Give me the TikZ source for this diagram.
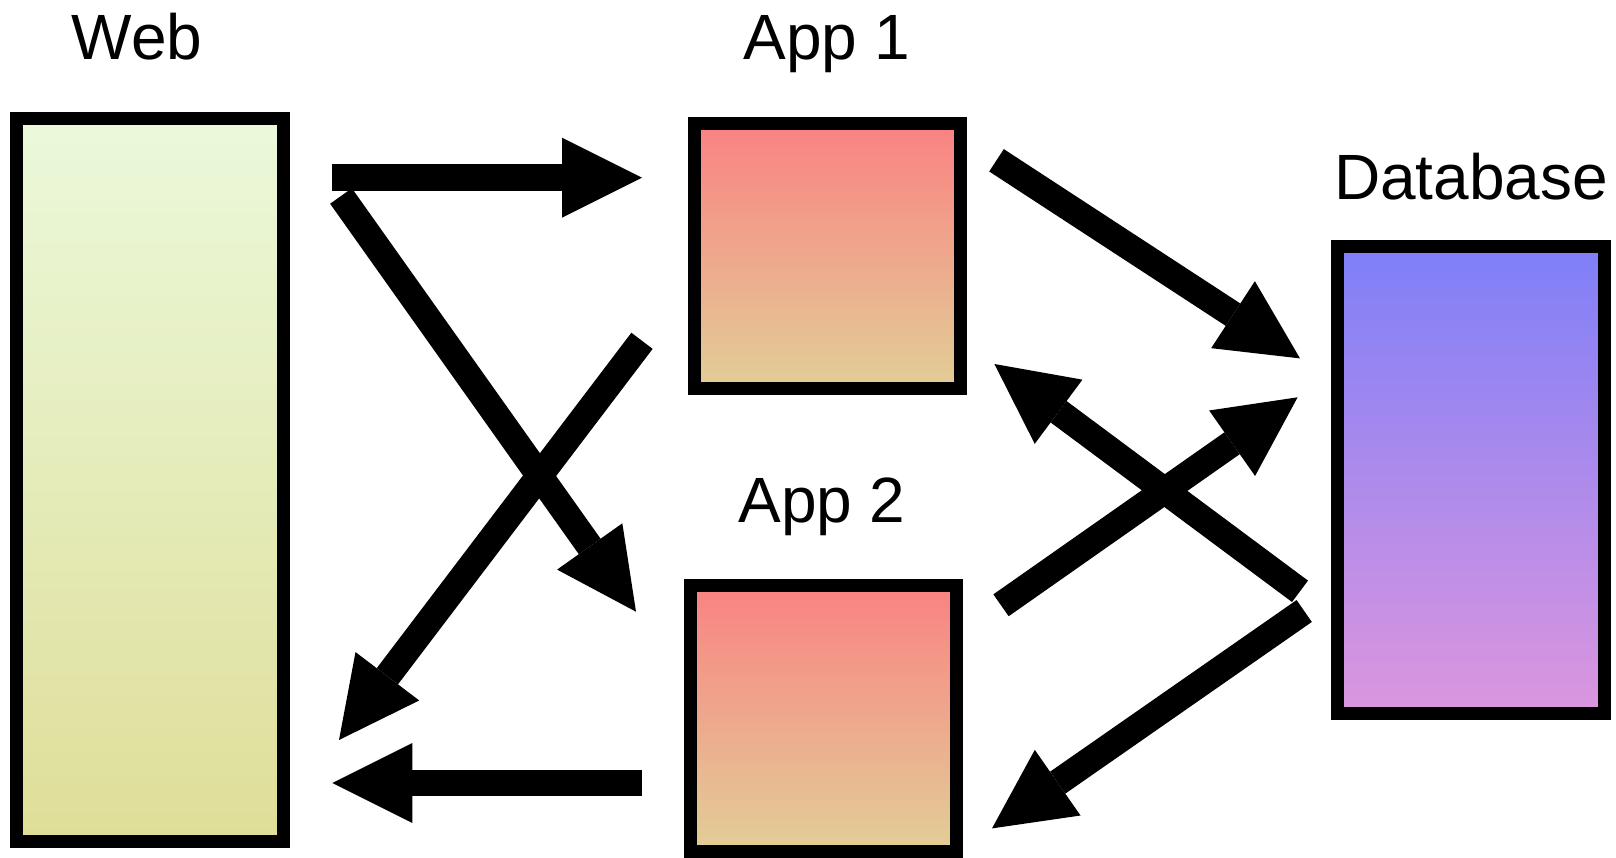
\documentclass[tikz,border=0pt]{standalone}
\usepackage{fontspec}
\setmainfont{Liberation Sans}
\usetikzlibrary{arrows.meta}

\definecolor{webtop}{HTML}{EBF9DB}
\definecolor{webbot}{HTML}{DFDE98}
\definecolor{apptop}{HTML}{FA8282}
\definecolor{appbot}{HTML}{E2CE97}
\definecolor{dbtop}{HTML}{7F7FF8}
\definecolor{dbbot}{HTML}{DC96DE}

\begin{document}
\begin{tikzpicture}[x=1pt,y=-1pt,
  box/.style={rectangle, draw=black, line width=13.3pt, inner sep=0pt, outer sep=0pt},
  title/.style={font=\fontsize{64}{70}\selectfont, anchor=base, inner sep=0pt},
  flow/.style={line width=26.7pt, line cap=butt,
    -{Triangle[length=80pt,width=80pt,line width=0pt]}}]

  \useasboundingbox (0,0) rectangle (1616,858);

  % tiers
  \node[box, top color=webtop, bottom color=webbot,
        minimum width=266.7pt, minimum height=722.7pt] (web) at (150,480) {};
  \node[box, top color=apptop, bottom color=appbot,
        minimum width=265.7pt, minimum height=264.7pt] (app1) at (827.5,256) {};
  \node[box, top color=apptop, bottom color=appbot,
        minimum width=265.7pt, minimum height=265.7pt] (app2) at (823.3,718.5) {};
  \node[box, top color=dbtop, bottom color=dbbot,
        minimum width=266.7pt, minimum height=466.7pt] (db) at (1471,480) {};

  % captions
  \node[title] (webT)  at (137,60)   {Web};
  \node[title] (app1T) at (827,60)   {App 1};
  \node[title] (app2T) at (822,522)  {App 2};
  \node[title] (dbT)   at (1471,200) {Database};

  % arrow end points
  \coordinate (w1s) at (331.7,177.7);  \coordinate (w1e) at (642,177.7);
  \coordinate (w2s) at (341,196);      \coordinate (w2e) at (636,611.7);
  \coordinate (r1s) at (642,340.8);    \coordinate (r1e) at (339,740);
  \coordinate (r2s) at (641.7,783);    \coordinate (r2e) at (332.3,783);
  \coordinate (d1s) at (996.5,160.3);  \coordinate (d1e) at (1300,358.4);
  \coordinate (u1s) at (1300,591.3);   \coordinate (u1e) at (994.4,364);
  \coordinate (d2s) at (1001,605.3);   \coordinate (d2e) at (1297.6,397.3);
  \coordinate (u2s) at (1304.2,611);   \coordinate (u2e) at (992,828.4);

  % requests and replies
  \draw[flow] (w1s) -- (w1e);
  \draw[flow] (w2s) -- (w2e);
  \draw[flow] (r1s) -- (r1e);
  \draw[flow] (r2s) -- (r2e);
  \draw[flow] (d1s) -- (d1e);
  \draw[flow] (u1s) -- (u1e);
  \draw[flow] (d2s) -- (d2e);
  \draw[flow] (u2s) -- (u2e);
\end{tikzpicture}
\end{document}
